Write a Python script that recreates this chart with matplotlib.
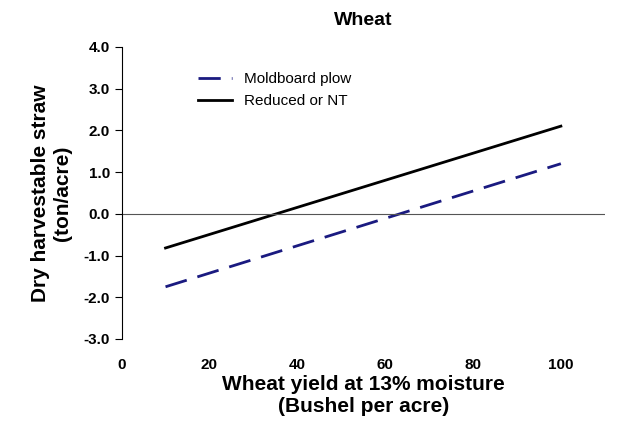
import matplotlib.pyplot as plt

plt.rcParams['font.family'] = ['Liberation Sans', 'DejaVu Sans']

yield_bu = [10, 100]
moldboard = [-1.75, 1.2]
reduced_nt = [-0.82, 2.1]
y_ticks = [-3.0, -2.0, -1.0, 0.0, 1.0, 2.0, 3.0, 4.0]
x_ticks = [0, 20, 40, 60, 80, 100]

fig = plt.figure(figsize=(6.4, 4.34), dpi=100)
ax = fig.add_axes([0.19, 0.219, 0.755, 0.673])

ax.plot(yield_bu, moldboard, color='#1a1a80', lw=2, dashes=(8, 4), label='Moldboard plow')
ax.plot(yield_bu, reduced_nt, color='black', lw=2, label='Reduced or NT')
ax.axhline(0, color='#555555', lw=0.8)

ax.set_xlim(0, 110)
ax.set_ylim(-3, 4)
ax.set_xticks(x_ticks)
ax.set_yticks(y_ticks)
ax.set_yticklabels([f'{v:.1f}' for v in y_ticks])
for lab in ax.get_xticklabels() + ax.get_yticklabels():
    lab.set_fontweight('bold')
    lab.set_fontsize(11)
ax.tick_params(axis='y', direction='out', length=5)
ax.tick_params(axis='x', length=0, pad=14)
ax.spines['top'].set_visible(False)
ax.spines['right'].set_visible(False)
ax.spines['bottom'].set_visible(False)

ax.set_title('Wheat', fontsize=14, fontweight='bold', pad=16)
ax.set_xlabel('Wheat yield at 13% moisture\n(Bushel per acre)', fontsize=15, fontweight='bold', labelpad=2)
ax.set_ylabel('Dry harvestable straw\n(ton/acre)', fontsize=15, fontweight='bold', labelpad=8)

ax.legend(loc='upper left', bbox_to_anchor=(0.13, 0.96), frameon=False, fontsize=11, handlelength=2.2)

fig.savefig('out.png', dpi=100, facecolor='white')
